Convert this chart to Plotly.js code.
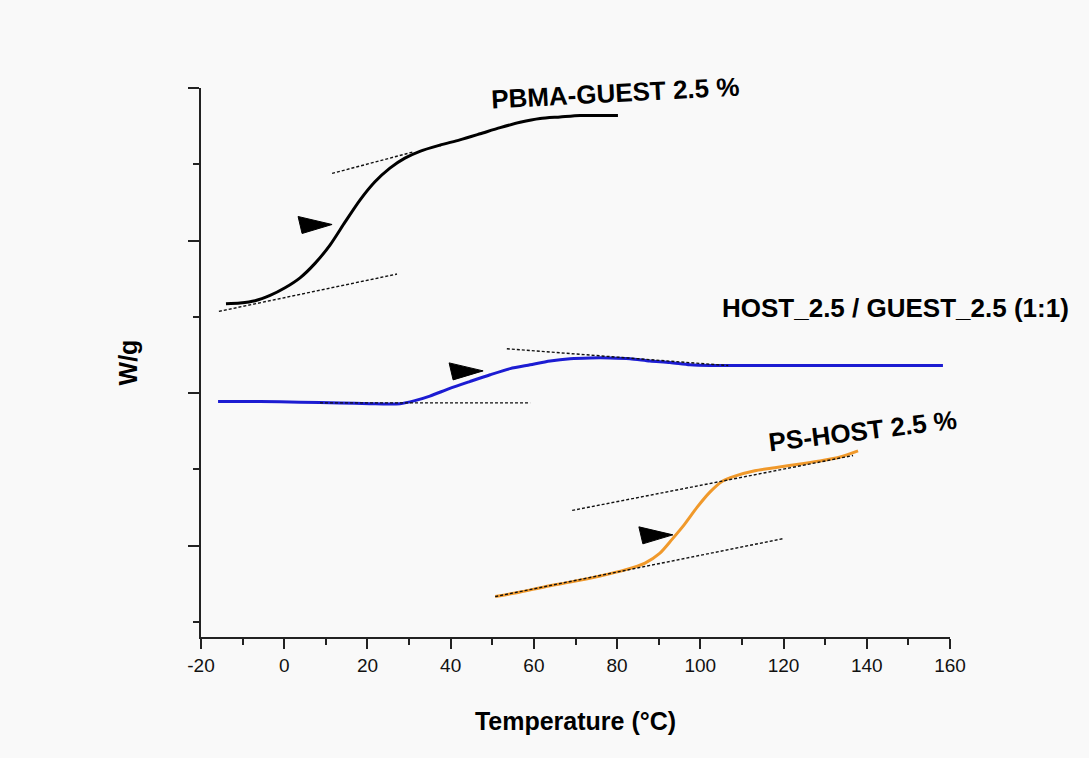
<!DOCTYPE html>
<html>
<head>
<meta charset="utf-8">
<script src="https://cdn.plot.ly/plotly-3.0.1.min.js"></script>
<style>html,body{margin:0;padding:0;background:#f9f9f9;}#chart{width:1089px;height:758px;}</style>
</head>
<body>
<div id="chart"></div>
<script>
// ---- data ----
const pbmaT = [-14.0,-10.6,-7.0,-3.4,0.2,3.8,7.4,11.0,14.6,18.2,21.8,25.4,29.0,32.6,37.4,42.2,47.1,51.9,56.7,61.5,66.3,71.1,75.9,80.2];
const pbmaW = [4.17,4.18,4.21,4.28,4.38,4.51,4.70,4.94,5.24,5.53,5.77,5.95,6.08,6.17,6.25,6.32,6.40,6.48,6.55,6.60,6.62,6.64,6.64,6.64];

const blendT = [-15.9,-5.8,3.8,13.4,20.6,27.8,31.4,35.0,39.8,44.6,49.5,54.3,59.1,63.9,68.7,73.5,78.3,83.1,87.9,92.7,97.5,102.3,114.3,136.0,158.3];
const blendW = [2.89,2.89,2.88,2.87,2.86,2.86,2.90,2.96,3.06,3.15,3.24,3.32,3.37,3.42,3.45,3.46,3.46,3.45,3.42,3.40,3.37,3.36,3.36,3.36,3.36];

const psT = [50.7,56.7,62.7,68.7,75.9,81.9,86.7,90.3,93.2,96.1,99.2,102.3,105.2,108.3,113.1,117.9,124.0,128.8,133.6,137.9];
const psW = [0.33,0.39,0.46,0.52,0.60,0.68,0.77,0.90,1.08,1.27,1.50,1.70,1.84,1.91,1.98,2.02,2.07,2.11,2.16,2.24];

// tangent (onset construction) lines
const pbmaLowT = [-15.7, 27.1], pbmaLowW = [4.07, 4.56];
const pbmaHighT = [11.5, 30.9], pbmaHighW = [5.88, 6.16];
const blendLowT = [8.6, 59.1], blendLowW = [2.87, 2.87];
const blendHighT = [53.5, 106.7], blendHighW = [3.58, 3.36];
const psLowT = [50.7, 119.9], psLowW = [0.33, 1.09];
const psHighT = [69.2, 136.7], psHighW = [1.46, 2.18];

// Tg arrow tips
const arrowT = [11.5, 47.8, 93.4];
const arrowW = [5.21, 3.29, 1.14];

// labels
const labelText = ['PBMA-GUEST 2.5 %', 'HOST_2.5 / GUEST_2.5 (1:1)', 'PS-HOST 2.5 %'];
const labelT = [79.7, 147.0, 138.9];
const labelW = [6.94, 4.12, 2.50];
const labelAngle = [-3, 0, -7];

const xTickVals = [-20,0,20,40,60,80,100,120,140,160];

// ---- layout constants ----
const W = 1089, H = 758;
const M = {l: 201, r: 139, t: 88, b: 121};
const xRange = [-20, 160], yRange = [-0.2, 7];
const pxPerX = (W - M.l - M.r) / (xRange[1] - xRange[0]);
const pxPerY = (H - M.t - M.b) / (yRange[1] - yRange[0]);

const FONT = '"Liberation Sans", Arial, Helvetica, sans-serif';
const dotted = {color: '#111', width: 1.4, dash: '3px,2px'};

function curve(x, y, color) {
  return {x, y, type: 'scatter', mode: 'lines', line: {color, width: 3, shape: 'spline', smoothing: 0.7}, hoverinfo: 'skip'};
}
function tangent(x, y) {
  return {x, y, type: 'scatter', mode: 'lines', line: dotted, hoverinfo: 'skip'};
}

const traces = [
  curve(pbmaT, pbmaW, '#000000'),
  curve(blendT, blendW, '#1c1cd2'),
  curve(psT, psW, '#f0992b'),
  tangent(pbmaLowT, pbmaLowW),
  tangent(pbmaHighT, pbmaHighW),
  tangent(blendLowT, blendLowW),
  tangent(blendHighT, blendHighW),
  tangent(psLowT, psLowW),
  tangent(psHighT, psHighW)
];

// arrowhead triangles (pixel-sized, anchored at data tips)
const shapes = arrowT.map((t, i) => {
  const w = arrowW[i];
  const p1 = [t - 34 / pxPerX, w + 8 / pxPerY];
  const p2 = [t - 30 / pxPerX, w - 9 / pxPerY];
  return {
    type: 'path', xref: 'x', yref: 'y',
    path: `M ${t} ${w} L ${p1[0]} ${p1[1]} L ${p2[0]} ${p2[1]} Z`,
    fillcolor: '#000', line: {color: '#000', width: 1}
  };
});

const annotations = labelText.map((txt, i) => ({
  text: txt, x: labelT[i], y: labelW[i], xref: 'x', yref: 'y',
  showarrow: false, textangle: labelAngle[i],
  font: {family: FONT, size: 26, color: '#000', weight: 'bold'}
}));

const layout = {
  width: W, height: H,
  margin: M,
  paper_bgcolor: '#f9f9f9', plot_bgcolor: 'rgba(0,0,0,0)',
  showlegend: false,
  font: {family: FONT, color: '#000'},
  xaxis: {
    range: xRange, tickvals: xTickVals, ticktext: xTickVals.map(String),
    showgrid: false, zeroline: false,
    showline: true, linecolor: '#222', linewidth: 2,
    ticks: 'outside', ticklen: 10, tickwidth: 2, tickcolor: '#222',
    minor: {dtick: 10, tick0: 0, ticks: 'outside', ticklen: 6, tickwidth: 2, tickcolor: '#222'},
    tickfont: {family: FONT, size: 19, color: '#111'},
    title: {text: 'Temperature (°C)', standoff: 38, font: {family: FONT, size: 25, color: '#000', weight: 'bold'}},
    automargin: false
  },
  yaxis: {
    range: yRange, tick0: 1, dtick: 2,
    showticklabels: false,
    showgrid: false, zeroline: false,
    showline: true, linecolor: '#222', linewidth: 2,
    ticks: 'outside', ticklen: 11, tickwidth: 2, tickcolor: '#222',
    minor: {dtick: 1, tick0: 0, ticks: 'outside', ticklen: 6, tickwidth: 2, tickcolor: '#222'},
    title: {text: 'W/g', standoff: 43, font: {family: FONT, size: 25, color: '#000', weight: 'bold'}},
    automargin: false
  },
  shapes, annotations
};

Plotly.newPlot('chart', traces, layout, {displayModeBar: false, staticPlot: true});
</script>
</body>
</html>
